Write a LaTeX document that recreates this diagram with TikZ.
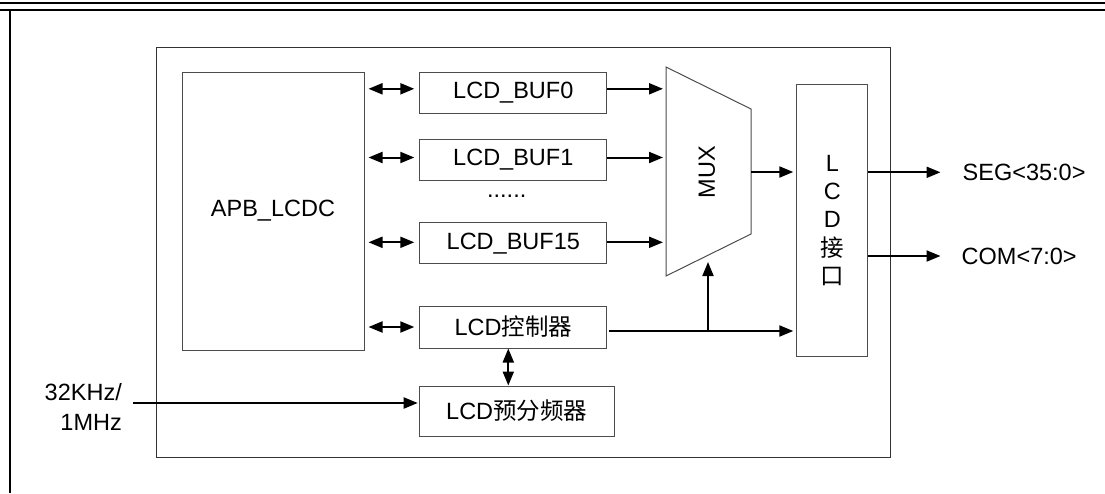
\documentclass[tikz,border=0pt]{standalone}
\usepackage{fontspec}
\setmainfont{Liberation Sans}
\newfontfamily\cjk{Noto Sans CJK SC}
\usetikzlibrary{arrows.meta,calc}
\begin{document}
\begin{tikzpicture}[x=1pt,y=-1pt,
  box/.style={draw=black!70,line width=1pt,inner sep=0pt,font=\fontsize{23.5}{28}\selectfont},
  frame/.style={draw=black!80,line width=1pt},
  conn/.style={line width=2pt,-{Triangle[length=14pt,width=11pt]}},
  biconn/.style={line width=2pt,{Triangle[length=14pt,width=11pt]}-{Triangle[length=14pt,width=11pt]}},
  lbl/.style={inner sep=0pt,font=\fontsize{23.5}{30}\selectfont},
  border/.style={line width=2pt}]
\useasboundingbox (0,0) rectangle (1105,493);
% page border
\draw[border] (0,3) -- (1105,3);
\draw[border] (0,10) -- (1105,10);
\draw[border] (10,10) -- (10,493);
% module frame
\draw[frame] (156,47) rectangle (890,457);
% blocks
\node[box,minimum width=182pt,minimum height=278pt] (apb) at (273,211) {APB\_LCDC};
\node[box,minimum width=187pt,minimum height=41pt] (buf0) at (513.3,92.8) {LCD\_BUF0};
\node[box,minimum width=187pt,minimum height=41pt] (buf1) at (513.3,159.5) {LCD\_BUF1};
\node[lbl] (dots) at (506.7,196) {......};
\node[box,minimum width=187pt,minimum height=41pt] (buf15) at (513.3,243.3) {LCD\_BUF15};
\node[box,minimum width=187pt,minimum height=42pt] (ctrl) at (513.3,327) {LCD{\cjk 控制器}};
\node[box,minimum width=195pt,minimum height=50pt] (pre) at (516.7,411) {LCD{\cjk 预分频器}};
\node[box,minimum width=71pt,minimum height=272pt,align=center,
      font=\fontsize{23.5}{28.3}\selectfont] (lcd) at (832.3,220.5) {L\\C\\D\\{\cjk 接}\\{\cjk 口}};
% MUX trapezoid
\coordinate (m1) at (666,67);
\coordinate (m2) at (751,109);
\coordinate (m3) at (751,234);
\coordinate (m4) at (666,276);
\draw[box] (m1) -- (m2) -- (m3) -- (m4) -- cycle;
\node[lbl,rotate=90] (mux) at (707,172) {MUX};
% APB <-> blocks
\draw[biconn] ($(apb.east |- buf0.west)+(4,-4)$) -- ($(buf0.west)+(-5,-4)$);
\draw[biconn] ($(apb.east |- buf1.west)+(4,-2)$) -- ($(buf1.west)+(-5,-2)$);
\draw[biconn] ($(apb.east |- buf15.west)+(4,-1)$) -- ($(buf15.west)+(-5,-1)$);
\draw[biconn] ($(apb.east |- ctrl.west)+(4,0)$) -- ($(ctrl.west)+(-5,0)$);
% buffers -> MUX
\draw[conn] ($(buf0.east)+(0,-4)$) -- ($(m1 |- buf0.east)+(-3,-4)$);
\draw[conn] ($(buf1.east)+(0,-2)$) -- ($(m1 |- buf1.east)+(-3,-2)$);
\draw[conn] ($(buf15.east)+(0,-1)$) -- ($(m1 |- buf15.east)+(-3,-1)$);
% MUX -> LCD interface
\coordinate (muxout) at (751,172);
\draw[conn] (muxout) -- ($(lcd.west |- muxout)+(-3,0)$);
% control -> LCD interface and MUX
\coordinate (ctrlout) at ($(ctrl.east)+(2,4)$);
\coordinate (muxsel) at (708,262);
\coordinate (jn) at (muxsel |- ctrlout);
\draw[conn] (ctrlout) -- ($(lcd.west |- ctrlout)+(-3,0)$);
\draw[conn] (jn) -- (muxsel);
% control <-> prescaler
\draw[biconn] (ctrl.south -| 508.3,0) -- (pre.north -| 508.3,0);
% clock input
\node[lbl,anchor=east,align=right] (clk) at (122,406.7) {32KHz/\\1MHz};
\coordinate (clkin) at (133,403);
\draw[conn] (clkin) -- ($(pre.west |- clkin)+(-1,0)$);
% outputs
\node[lbl,anchor=west] (seg) at (962.5,172.3) {SEG<35:0>};
\node[lbl,anchor=west] (com) at (961.5,256) {COM<7:0>};
\draw[conn] (lcd.east |- seg.west) -- ($(seg.west)+(-22,0)$);
\draw[conn] (lcd.east |- com.west) -- ($(com.west)+(-21,0)$);
\end{tikzpicture}
\end{document}
